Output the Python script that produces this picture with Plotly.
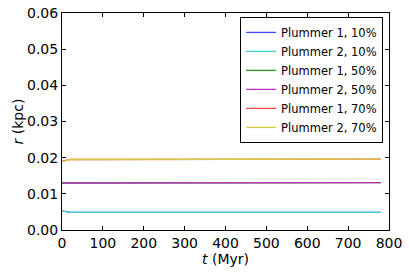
import plotly.graph_objects as go

t = [0, 10, 20, 40, 60, 80, 100, 120, 140, 160, 180, 200, 220, 240, 260, 280, 300,
     320, 340, 360, 380, 400, 420, 440, 460, 480, 500, 520, 540, 560, 580, 600,
     620, 640, 660, 680, 700, 720, 740, 760, 780]

p1_10 = [0.0053, 0.0050, 0.0049, 0.0049, 0.0049, 0.0049, 0.0049, 0.0049, 0.0049, 0.0049,
         0.0049, 0.0049, 0.0049, 0.0049, 0.0049, 0.0049, 0.0049, 0.0049, 0.0049, 0.0049,
         0.0049, 0.0049, 0.0049, 0.0049, 0.0049, 0.0049, 0.0049, 0.0049, 0.0049, 0.0049,
         0.0049, 0.0049, 0.0049, 0.0049, 0.0049, 0.0049, 0.0049, 0.0049, 0.0049, 0.0049, 0.0049]
p2_10 = [0.0053, 0.0050, 0.0049, 0.0049, 0.0049, 0.0049, 0.0049, 0.0049, 0.0049, 0.0049,
         0.0049, 0.0049, 0.0049, 0.0049, 0.0049, 0.0049, 0.0049, 0.0049, 0.0049, 0.0049,
         0.0049, 0.0049, 0.0049, 0.0049, 0.0049, 0.0049, 0.0049, 0.0049, 0.0049, 0.0049,
         0.0049, 0.0049, 0.0049, 0.0049, 0.0049, 0.0049, 0.0049, 0.0049, 0.0049, 0.0049, 0.0049]
p1_50 = [0.0130, 0.0130, 0.0131, 0.0131, 0.0131, 0.0130, 0.0130, 0.0131, 0.0131, 0.0131,
         0.0131, 0.0131, 0.0131, 0.0131, 0.0131, 0.0131, 0.0131, 0.0131, 0.0131, 0.0131,
         0.0131, 0.0131, 0.0131, 0.0131, 0.0131, 0.0131, 0.0131, 0.0131, 0.0131, 0.0131,
         0.0131, 0.0131, 0.0131, 0.0131, 0.0131, 0.0131, 0.0131, 0.0131, 0.0131, 0.0131, 0.0131]
p2_50 = [0.0130, 0.0130, 0.0130, 0.0130, 0.0131, 0.0130, 0.0130, 0.0130, 0.0130, 0.0131,
         0.0131, 0.0131, 0.0131, 0.0131, 0.0131, 0.0131, 0.0131, 0.0131, 0.0131, 0.0131,
         0.0131, 0.0131, 0.0131, 0.0131, 0.0131, 0.0131, 0.0131, 0.0131, 0.0131, 0.0131,
         0.0131, 0.0131, 0.0131, 0.0131, 0.0131, 0.0131, 0.0131, 0.0131, 0.0131, 0.0131, 0.0131]
p1_70 = [0.0190, 0.0193, 0.0195, 0.0195, 0.0195, 0.0195, 0.0195, 0.0195, 0.0195, 0.0195,
         0.0195, 0.0195, 0.0195, 0.0195, 0.0195, 0.0195, 0.0195, 0.0196, 0.0195, 0.0195,
         0.0195, 0.0195, 0.0196, 0.0196, 0.0196, 0.0196, 0.0196, 0.0196, 0.0196, 0.0196,
         0.0196, 0.0197, 0.0196, 0.0196, 0.0196, 0.0196, 0.0196, 0.0196, 0.0196, 0.0196, 0.0196]
p2_70 = [0.0189, 0.0193, 0.0195, 0.0195, 0.0195, 0.0195, 0.0195, 0.0195, 0.0195, 0.0195,
         0.0195, 0.0195, 0.0195, 0.0195, 0.0195, 0.0195, 0.0195, 0.0195, 0.0195, 0.0195,
         0.0195, 0.0195, 0.0196, 0.0196, 0.0196, 0.0196, 0.0196, 0.0196, 0.0196, 0.0196,
         0.0196, 0.0196, 0.0196, 0.0196, 0.0196, 0.0196, 0.0196, 0.0196, 0.0196, 0.0196, 0.0196]

names = ["Plummer 1, 10%", "Plummer 2, 10%", "Plummer 1, 50%",
         "Plummer 2, 50%", "Plummer 1, 70%", "Plummer 2, 70%"]
series = [p1_10, p2_10, p1_50, p2_50, p1_70, p2_70]
colors = ["#4848ff", "#40d0d0", "#209a20", "#c030c0", "#ff4848", "#d4cc40"]

x_ticks = [0, 100, 200, 300, 400, 500, 600, 700, 800]
y_ticks = [0.00, 0.01, 0.02, 0.03, 0.04, 0.05, 0.06]

fig = go.Figure()
for nm, ys, c in zip(names, series, colors):
    fig.add_trace(go.Scatter(x=t, y=ys, mode="lines", name=nm,
                             line=dict(color=c, width=1.3)))

font = dict(family="DejaVu Sans", size=14, color="black")
fig.update_layout(
    width=409, height=274,
    margin=dict(l=62, r=20, t=13, b=44),
    paper_bgcolor="white", plot_bgcolor="white",
    font=font,
    showlegend=True,
    legend=dict(x=0.982, y=0.982, xanchor="right", yanchor="top",
                bgcolor="white", bordercolor="black", borderwidth=1,
                font=dict(family="DejaVu Sans", size=11.5, color="black"),
                tracegroupgap=0, itemwidth=30),
)
fig.update_xaxes(range=[0, 800], tickvals=x_ticks, ticks="inside", ticklen=4,
                 tickcolor="black", showline=True, linecolor="black", linewidth=1,
                 mirror="ticks", showgrid=False, zeroline=False, automargin=False,
                 tickfont=font,
                 title=dict(text="<i>t</i> (Myr)", standoff=3, font=font))
fig.update_yaxes(range=[0, 0.06], tickvals=y_ticks, tickformat=".2f", ticks="inside",
                 ticklen=4, tickcolor="black", showline=True, linecolor="black",
                 linewidth=1, mirror="ticks", showgrid=False, zeroline=False,
                 automargin=False, tickfont=font,
                 title=dict(text="<i>r</i> (kpc)", standoff=0, font=font))

fig.write_html("out.html", config={"displayModeBar": False},
               post_script="document.body.style.margin='0';"
                           "document.body.style.overflow='hidden';")
